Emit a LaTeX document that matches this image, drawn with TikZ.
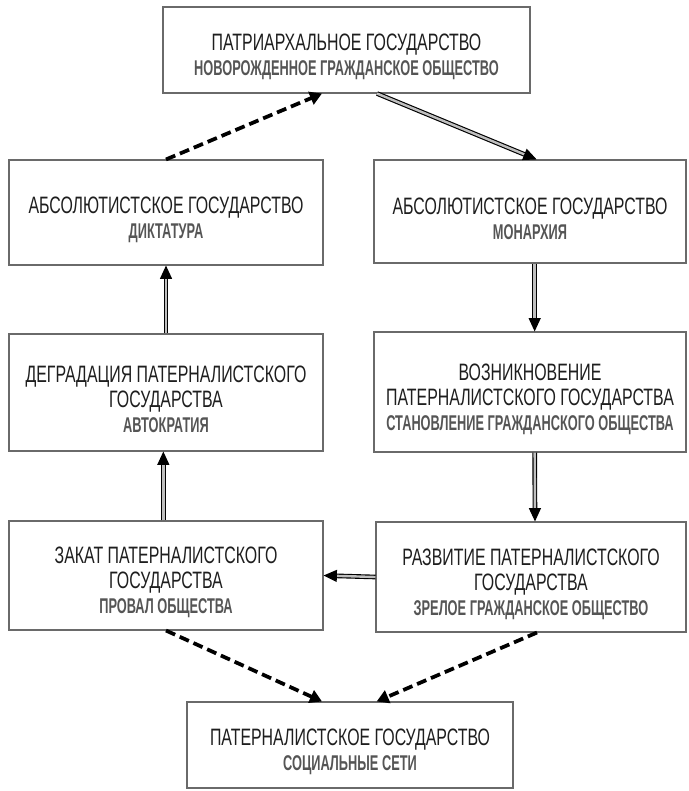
\documentclass[tikz,border=0pt]{standalone}
\usepackage{fontspec}
\setmainfont{Liberation Sans}[FakeStretch=0.67, BoldFeatures={FakeStretch=0.6}]
\usepackage{tikz}
\usetikzlibrary{arrows.meta}
\definecolor{frame}{HTML}{6A6A6A}
\definecolor{subgray}{HTML}{555555}
\definecolor{maintext}{HTML}{1E1E1E}
\newcommand{\pxu}{0.75pt}
\newcommand{\sub}[1]{{\fontsize{16}{18.75}\selectfont\bfseries\color{subgray}#1}}

\begin{document}
\begin{tikzpicture}[x=0.75pt,y=-0.75pt,
    box/.style={draw=frame, line width=0.8pt, inner sep=0pt},
    txt/.style={align=center, text=maintext, yshift=-5.3pt,
        font=\fontsize{17.8}{18.75}\selectfont},
    dblarrow/.style={draw=black, line width=0.85pt, double=gray!50, double distance=1.8pt,
        -{Triangle[length=10pt,width=9pt]}},
    dasharrow/.style={draw=black, line width=2.8pt, dash pattern=on 7.5pt off 3.8pt,
        -{Triangle[length=9pt,width=10pt]}}]
            \useasboundingbox (0,0) rectangle (688,791);
            \node[box, minimum width=367*\pxu, minimum height=86*\pxu,
                label={[txt]center:{ПАТРИАРХАЛЬНОЕ ГОСУДАРСТВО\\\sub{НОВОРОЖДЕННОЕ ГРАЖДАНСКОЕ ОБЩЕСТВО}}}]
                (patr) at (346.5,50) {};
            \node[box, minimum width=314*\pxu, minimum height=105*\pxu,
                label={[txt]center:{АБСОЛЮТИСТСКОЕ ГОСУДАРСТВО\\\sub{ДИКТАТУРА}}}]
                (dikt) at (166,212.5) {};
            \node[box, minimum width=312*\pxu, minimum height=103*\pxu,
                label={[txt]center:{АБСОЛЮТИСТСКОЕ ГОСУДАРСТВО\\\sub{МОНАРХИЯ}}}]
                (monarh) at (530,211.5) {};
            \node[box, minimum width=314*\pxu, minimum height=117*\pxu,
                label={[txt]center:{ДЕГРАДАЦИЯ ПАТЕРНАЛИСТСКОГО\\ГОСУДАРСТВА\\\sub{АВТОКРАТИЯ}}}]
                (degrad) at (166,392.5) {};
            \node[box, minimum width=312*\pxu, minimum height=120*\pxu,
                label={[txt]center:{ВОЗНИКНОВЕНИЕ\\ПАТЕРНАЛИСТСКОГО ГОСУДАРСТВА\\\sub{СТАНОВЛЕНИЕ ГРАЖДАНСКОГО ОБЩЕСТВА}}}]
                (vozn) at (530,392) {};
            \node[box, minimum width=314*\pxu, minimum height=109*\pxu,
                label={[txt]center:{ЗАКАТ ПАТЕРНАЛИСТСКОГО\\ГОСУДАРСТВА\\\sub{ПРОВАЛ ОБЩЕСТВА}}}]
                (zakat) at (166,575.5) {};
            \node[box, minimum width=310*\pxu, minimum height=110*\pxu,
                label={[txt]center:{РАЗВИТИЕ ПАТЕРНАЛИСТСКОГО\\ГОСУДАРСТВА\\\sub{ЗРЕЛОЕ ГРАЖДАНСКОЕ ОБЩЕСТВО}}}]
                (razv) at (531,577) {};
            \node[box, minimum width=326*\pxu, minimum height=86*\pxu,
                label={[txt]center:{ПАТЕРНАЛИСТСКОЕ ГОСУДАРСТВО\\\sub{СОЦИАЛЬНЫЕ СЕТИ}}}]
                (patern) at (350,745) {};
            % cycle
            \draw[dblarrow] ([xshift=22.9pt]patr.south) -- ([xshift=5pt]monarh.north);
            \draw[dblarrow] ([xshift=3.5pt]monarh.south) -- ([xshift=3.5pt]vozn.north);
            \draw[dblarrow] ([xshift=3.5pt]vozn.south) -- ([xshift=3pt]razv.north);
            \draw[dblarrow] (razv.west) -- (zakat.east);
            \draw[dblarrow] ([xshift=-2pt]zakat.north) -- ([xshift=-2pt]degrad.south);
            \draw[dblarrow] (degrad.north) -- (dikt.south);
            \draw[dasharrow] (dikt.north) -- ([xshift=-18.4pt]patr.south);
            % exits
            \draw[dasharrow] (zakat.south) -- ([xshift=-21pt]patern.north);
            \draw[dasharrow] ([xshift=4.5pt]razv.south) -- ([xshift=20pt]patern.north);
        \end{tikzpicture}
\end{document}
